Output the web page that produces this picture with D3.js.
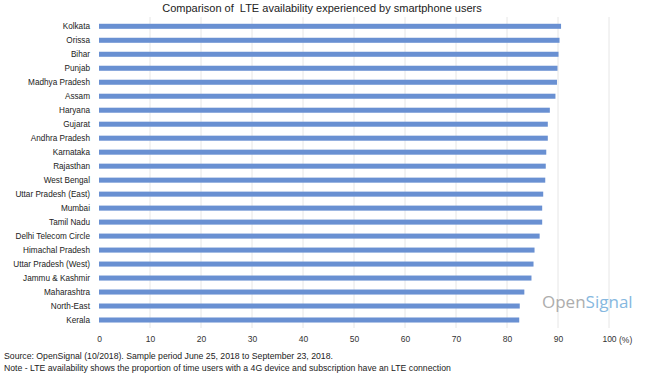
<!DOCTYPE html>
<html>
<head>
<meta charset="utf-8">
<script src="https://cdn.jsdelivr.net/npm/d3@7"></script>
<style>
  body { margin: 0; background: #fff; }
  svg { display: block; font-family: "Liberation Sans", Arial, sans-serif; }
</style>
</head>
<body>
<div id="chart"></div>
<script>
(function () {

  // categories, top to bottom
  var circles = ['Kolkata', 'Orissa', 'Bihar', 'Punjab', 'Madhya Pradesh', 'Assam', 'Haryana',
    'Gujarat', 'Andhra Pradesh', 'Karnataka', 'Rajasthan', 'West Bengal', 'Uttar Pradesh (East)',
    'Mumbai', 'Tamil Nadu', 'Delhi Telecom Circle', 'Himachal Pradesh', 'Uttar Pradesh (West)',
    'Jammu & Kashmir', 'Maharashtra', 'North-East', 'Kerala']

  // LTE availability (%)
  var availability = [90.6, 90.3, 90.1, 89.9, 89.8, 89.5, 88.4, 88.0, 88.0, 87.7, 87.6,
    87.5, 87.1, 86.9, 86.9, 86.4, 85.4, 85.2, 84.8, 83.4, 82.5, 82.4]

  // x ticks
  var ticks = [0, 10, 20, 30, 40, 50, 60, 70, 80, 90, 100]

  var datapoints = circles.map(function (d, i) { return { name: d, value: availability[i] } })

  var width = 650,
      height = 373

  // create svg
  var svg = d3.select('#chart').append('svg')
      .attr('width', width)
      .attr('height', height)

  // x scale - percent
  var xPositionScale = d3.scaleLinear()
    .domain([0, 100])
    .range([99, 609])

  // y scale - circles
  var yPositionScale = d3.scaleBand()
    .domain(circles)
    .range([19.3, 327])
    .paddingInner(0.64)
    .paddingOuter(0.32)

  // title
  svg.append('text')
    .attr('x', 322)
    .attr('y', 12)
    .attr('text-anchor', 'middle')
    .attr('font-size', 11)
    .attr('fill', '#222')
    .attr('xml:space', 'preserve')
    .text('Comparison of  LTE availability experienced by smartphone users')

  // gridlines
  svg.append('g')
    .selectAll('line')
    .data(ticks.filter(d => d > 0))
    .join('line')
    .attr('x1', d => xPositionScale(d))
    .attr('x2', d => xPositionScale(d))
    .attr('y1', 17)
    .attr('y2', 328)
    .attr('stroke', '#e6e6e6')
    .attr('stroke-width', 1)

  // bars
  svg.append('g')
    .selectAll('rect')
    .data(datapoints)
    .join('rect')
    .attr('x', xPositionScale(0))
    .attr('y', d => yPositionScale(d.name))
    .attr('width', d => xPositionScale(d.value) - xPositionScale(0))
    .attr('height', yPositionScale.bandwidth())
    .attr('fill', '#6990d2')

  // y axis labels
  var yAxis = d3.axisLeft(yPositionScale).tickSize(0).tickPadding(9)
  svg.append('g')
    .attr('class', 'axis y-axis')
    .attr('transform', 'translate(' + xPositionScale(0) + ',0)')
    .call(yAxis)
    .call(g => g.select('.domain').remove())
    .selectAll('text')
    .attr('font-size', 8.2)
    .attr('font-family', '"Liberation Sans", Arial, sans-serif')
    .attr('fill', '#222')

  // x axis labels
  var xAxis = d3.axisBottom(xPositionScale).tickValues(ticks).tickSize(0).tickPadding(8)
  svg.append('g')
    .attr('class', 'axis x-axis')
    .attr('transform', 'translate(0,328)')
    .call(xAxis)
    .call(g => g.select('.domain').remove())
    .selectAll('text')
    .attr('font-size', 8.5)
    .attr('font-family', '"Liberation Sans", Arial, sans-serif')
    .attr('fill', '#333')

  svg.append('text')
    .attr('x', 619)
    .attr('y', 343)
    .attr('font-size', 8.5)
    .attr('fill', '#333')
    .text('(%)')

  // logo
  var logo = svg.append('text')
    .attr('x', 542)
    .attr('y', 308)
    .attr('font-family', '"Open Sans", sans-serif')
    .attr('font-size', 17)
  logo.append('tspan').attr('fill', '#adadad').text('Open')
  logo.append('tspan').attr('fill', '#86b8e0').text('Signal')

  // notes
  svg.append('text')
    .attr('x', 4)
    .attr('y', 359)
    .attr('font-size', 8.7)
    .attr('fill', '#222')
    .text('Source: OpenSignal (10/2018). Sample period June 25, 2018 to September 23, 2018.')

  svg.append('text')
    .attr('x', 4)
    .attr('y', 371)
    .attr('font-size', 8.7)
    .attr('fill', '#222')
    .text('Note - LTE availability shows the proportion of time users with a 4G device and subscription have an LTE connection')

})();
</script>
</body>
</html>
